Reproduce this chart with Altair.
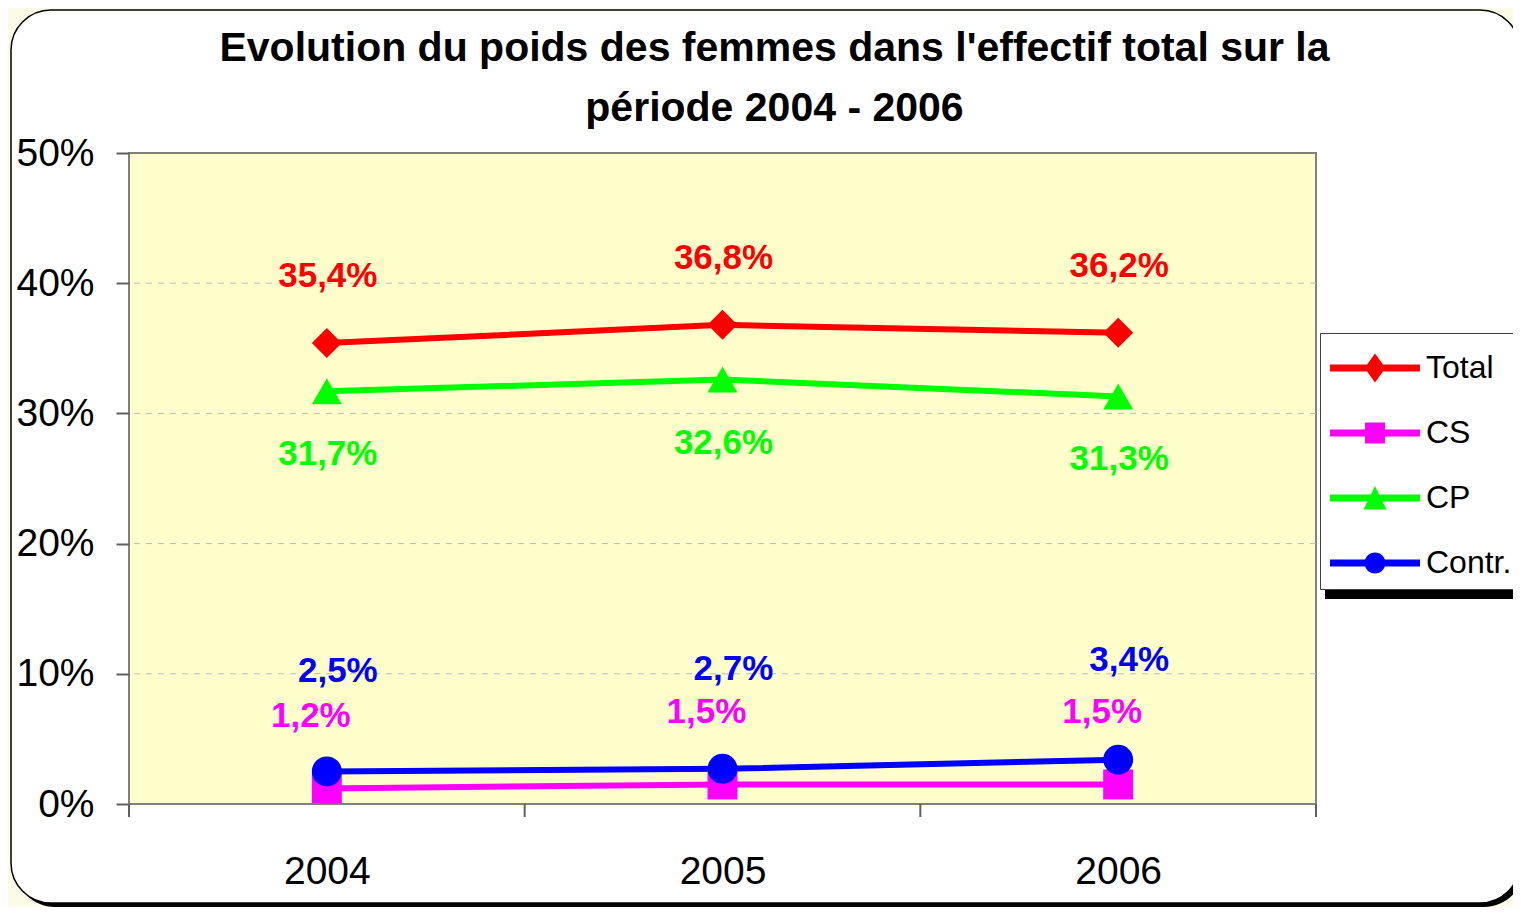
import altair as alt
import pandas as pd

# ---- data ----
series = ["Total", "CS", "CP", "Contr."]
years = [2004, 2005, 2006]
total = [35.4, 36.8, 36.2]
cs = [1.2, 1.5, 1.5]
cp = [31.7, 32.6, 31.3]
contr = [2.5, 2.7, 3.4]
y_ticks = [0, 10, 20, 30, 40, 50]
grid_values = [10, 20, 30, 40]
x_bounds = [2003.5, 2004.5, 2005.5, 2006.5]
title_lines = ["Evolution du poids des femmes dans l'effectif total sur la",
               "période 2004 - 2006"]

# ---- style ----
colors = ["#FF0000", "#FF00FF", "#00FF00", "#0000FF"]
shapes = ["diamond", "square", "triangle-up", "circle"]
FONT = "Liberation Sans"
# legend symbols: line + marker, in units of 25px (symbolSize 2500)
LINE = "M-1.8,-0.14H1.8V0.14H-1.8Z"
legend_paths = [
    LINE + "M0,-0.58L0.42,0L0,0.58L-0.42,0Z",
    LINE + "M-0.4,-0.42H0.4V0.42H-0.4Z",
    LINE + "M0,-0.48L0.46,0.46H-0.46Z",
    LINE + "M-0.42,0A0.42,0.42,0,1,1,0.42,0A0.42,0.42,0,1,1,-0.42,0Z",
]
label_offsets = {"Total": (1, -67), "CS": (-16, -72), "CP": (1, 63), "Contr.": (11, -100)}

rows = []
for s, vals in zip(series, [total, cs, cp, contr]):
    for yr, v in zip(years, vals):
        rows.append({"serie": s, "year": yr, "value": v})
df = pd.DataFrame(rows)

W, H = 1187, 651

xs = alt.Scale(domain=[2003.5, 2006.5], nice=False, zero=False)
ys = alt.Scale(domain=[0, 50], nice=False, zero=False)
axis_common = dict(
    labelFont=FONT, labelFontSize=39, labelColor="black",
    tickWidth=2, tickSize=13,
    domain=False, grid=False, title=None, zindex=1,
)
x_axis = alt.Axis(values=years, format="d", labelPadding=35, tickColor="transparent",
                  labelFlush=False, labelOverlap=False, **axis_common)
y_axis = alt.Axis(values=y_ticks, labelExpr="datum.value + '%'", labelPadding=22,
                  tickColor="#606060", **axis_common)
X = alt.X("year:Q", scale=xs, axis=x_axis)
Y = alt.Y("value:Q", scale=ys, axis=y_axis)
color_scale = alt.Scale(domain=series, range=colors)

one = alt.Data(values=[{}])

# decorative frame (chart border with shadow)
frame_shadow = alt.Chart(one).mark_rect(cornerRadius=40, fill="black").encode(
    x=alt.value(-114), x2=alt.value(1395), y=alt.value(-139), y2=alt.value(754))
frame = alt.Chart(one).mark_rect(cornerRadius=40, fill="white", stroke="black",
                                 strokeWidth=1.5).encode(
    x=alt.value(-118), x2=alt.value(1391), y=alt.value(-143), y2=alt.value(750))
legend_shadow = alt.Chart(one).mark_rect(fill="black").encode(
    x=alt.value(1196), x2=alt.value(1400), y=alt.value(436), y2=alt.value(446))

# plot area background
plot_bg = alt.Chart(pd.DataFrame({"year": [2003.5], "year2": [2006.5],
                                  "value": [0], "value2": [50]})).mark_rect(
    fill="#FFFFCC", stroke="#808080", strokeWidth=2).encode(
    x=X, x2="year2:Q", y=Y, y2="value2:Q")

# category boundary ticks below the x axis
x_ticks = alt.Chart(pd.DataFrame({"year": x_bounds})).mark_rule(
    color="#606060", strokeWidth=2).encode(
    x=X, y=alt.value(H), y2=alt.value(H + 13))

grid = alt.Chart(pd.DataFrame({"value": grid_values})).mark_rule(
    color="#BBBBBB", strokeDash=[6, 6], strokeWidth=1).encode(y=Y)

lines = alt.Chart(df).mark_line(strokeWidth=6).encode(
    x=X, y=Y,
    color=alt.Color("serie:N", scale=color_scale, legend=None),
    detail="serie:N",
    order="year:Q",
)
points = alt.Chart(df).mark_point(filled=True, size=900, opacity=1, strokeWidth=0).encode(
    x=X, y=Y,
    color=alt.Color("serie:N", scale=color_scale, legend=None),
    shape=alt.Shape("serie:N", scale=alt.Scale(domain=series, range=shapes), legend=None),
)

texts = []
for s, c in zip(series, colors):
    dx, dy = label_offsets[s]
    texts.append(
        alt.Chart(df).transform_filter(alt.datum.serie == s).transform_calculate(
            label="replace(format(datum.value, '.1f'), '.', ',') + '%'"
        ).mark_text(font=FONT, fontSize=35, fontWeight="bold", color=c,
                    dx=dx, dy=dy, baseline="middle", align="center").encode(
            x=X, y=Y, text="label:N")
    )

leg = alt.Legend(
    title=None, orient="none", legendX=1191, legendY=180,
    labelFont=FONT, labelFontSize=32, labelColor="black",
    symbolSize=2500, symbolOffset=20, labelOffset=26, symbolStrokeWidth=0,
    padding=10, rowPadding=24,
    fillColor="white", strokeColor="#404040",
)
legend_layer = alt.Chart(df).transform_filter("false").mark_point(
    filled=True, opacity=1).encode(
    color=alt.Color("serie:N", scale=color_scale, legend=leg, title=None),
    shape=alt.Shape("serie:N", scale=alt.Scale(domain=series, range=legend_paths),
                    legend=leg, title=None),
)

chart = alt.layer(
    frame_shadow, frame, legend_shadow, plot_bg, x_ticks, grid, lines, points,
    *texts, legend_layer
).resolve_scale(
    color="independent", shape="independent"
).properties(
    width=W, height=H,
    autosize=alt.AutoSizeParams(type="none"),
    padding={"left": 121, "top": 145, "right": 197, "bottom": 103},
    background="#FBFBE8",
    title=alt.TitleParams(
        text=title_lines, font=FONT, fontSize=41, fontWeight="bold", color="black",
        anchor="middle", frame="group", dx=52, dy=151, lineHeight=60, offset=30,
    ),
).configure_view(stroke=None)

chart.save("out.html", embed_options={"renderer": "svg", "actions": False})
